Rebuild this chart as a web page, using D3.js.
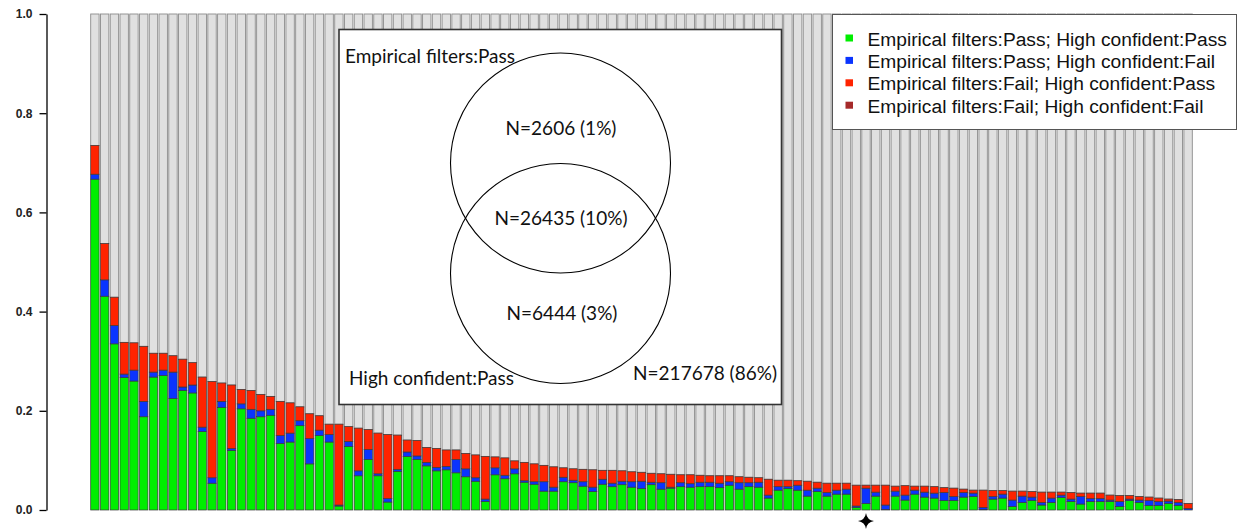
<!DOCTYPE html>
<html>
<head>
<meta charset="utf-8">
<script src="https://cdn.jsdelivr.net/npm/d3@7"></script>
<style>
  html, body { margin: 0; padding: 0; background: #fff; }
  svg { display: block; }
</style>
</head>
<body>
<div id="chart"></div>
<script>
// Fractions per group (sorted by total), bottom to top of each bar
const green = [
  .667,.431,.335,.267,.260,.188,.268,.271,.225,.241,
  .236,.158,.054,.207,.120,.204,.185,.188,.191,.134,
  .137,.170,.093,.150,.137,.008,.128,.069,.102,.069,
  .016,.078,.108,.102,.089,.079,.081,.075,.067,.058,
  .017,.071,.063,.073,.056,.052,.038,.038,.057,.055,
  .048,.037,.052,.047,.051,.046,.043,.051,.042,.044,
  .047,.046,.047,.047,.045,.050,.042,.047,.046,.024,
  .040,.043,.040,.028,.037,.028,.032,.032,.005,.013,
  .028,.001,.028,.020,.032,.026,.024,.019,.019,.026,
  .027,.001,.022,.024,.007,.015,.019,.010,.015,.025,
  .017,.012,.017,.017,.017,.007,.019,.015,.009,.009,
  .013,.009,0
];
const blue = [
  .010,.033,.037,.007,.022,.031,.010,.011,.053,.007,
  .016,.009,.011,.012,.004,.010,.018,.012,.012,.016,
  .018,.010,.051,.011,.015,.002,.010,.010,.020,.004,
  .007,.004,.009,.007,.007,.007,.007,.027,.016,.007,
  .005,.014,.007,.010,.003,.005,.019,.008,.009,.005,
  .009,.009,.010,.007,.007,.011,.015,.005,.013,.002,
  .008,.007,.009,.009,.009,.007,.013,.008,.010,.006,
  .007,.004,.010,.012,.007,.007,.008,.010,.003,.031,
  .008,.009,.010,.010,.008,.010,.010,.016,.008,.009,
  .007,.004,.005,.008,.013,.013,.007,.005,.009,.005,
  .005,.015,.006,.006,.003,.010,.003,.005,.010,.008,
  .005,.006,.003
];
const red = [
  .058,.073,.057,.064,.055,.111,.038,.034,.033,.056,
  .045,.101,.194,.037,.128,.029,.038,.033,.026,.069,
  .061,.028,.050,.029,.021,.163,.030,.086,.040,.082,
  .129,.069,.024,.031,.030,.038,.033,.019,.031,.046,
  .086,.022,.035,.016,.037,.036,.033,.041,.019,.023,
  .025,.035,.018,.026,.021,.020,.018,.018,.018,.026,
  .016,.018,.014,.013,.015,.012,.012,.011,.009,.032,
  .013,.013,.009,.018,.012,.019,.014,.012,.042,.006,
  .014,.040,.010,.019,.008,.012,.013,.010,.017,.007,
  .006,.035,.012,.007,.018,.010,.011,.021,.012,.006,
  .013,.007,.011,.011,.010,.012,.007,.007,.007,.007,
  .004,.006,.010
];
const darkred = [
  0,0,0,0,0,0,0,0,0,0, 0,0,0,0,0,0,0,0,0,0,
  0,0,0,0,0,0,0,0,0,0, 0,0,0,0,0,0,0,0,0,0,
  0,0,0,0,0,0,0,0,0,0, 0,0,0,0,0,0,0,0,0,0,
  0,0,0,0,0,0,0,0,0,0, 0,0,0,0,0,0,0,0,0,0,
  0,0,0,0,0,0,0,0,0,0, 0,0,0,0,0,0,0,0,0,0,
  0,0,0,0,0,0,0,0,0,0, 0,0,0
];

const seriesKeys = ['green', 'blue', 'red', 'darkred'];
const legendLabels = [
  'Empirical filters:Pass; High confident:Pass',
  'Empirical filters:Pass; High confident:Fail',
  'Empirical filters:Fail; High confident:Pass',
  'Empirical filters:Fail; High confident:Fail'
];
const yTicks = [0, 0.2, 0.4, 0.6, 0.8, 1.0];
const markedBar = 79; // the group flagged with a star under the axis

// Venn inset counts
const vennLabels = {
  setA: 'Empirical filters:Pass',
  setB: 'High confident:Pass',
  onlyA: 'N=2606 (1%)',
  both: 'N=26435 (10%)',
  onlyB: 'N=6444 (3%)',
  neither: 'N=217678 (86%)'
};

const colors = {
  green: '#00ee00',
  blue: '#0a34ff',
  red: '#ff2300',
  darkred: '#a52a2a',
  rest: '#e0e0e0'
};

const width = 1238, height = 529;

const svg = d3.select('#chart').append('svg')
  .attr('width', width)
  .attr('height', height);

// Build rows for the stack
const rows = green.map((g, i) => ({
  i: i, green: g, blue: blue[i], red: red[i], darkred: darkred[i]
}));

const x = d3.scaleBand()
  .domain(rows.map(d => d.i))
  .range([90.7, 1192.3])
  .paddingInner(0.14)
  .paddingOuter(0);

const y = d3.scaleLinear()
  .domain([0, 1])
  .range([510, 14]);

const stacked = d3.stack().keys(seriesKeys)(rows);

// Light gray remainder up to 1.0
svg.append('g')
  .selectAll('rect')
  .data(rows)
  .join('rect')
  .attr('x', d => x(d.i))
  .attr('width', x.bandwidth())
  .attr('y', y(1))
  .attr('height', d => y(d.green + d.blue + d.red + d.darkred) - y(1))
  .attr('fill', colors.rest)
  .attr('stroke', '#8c8c8c')
  .attr('stroke-width', 0.9);

// Coloured segments
svg.append('g')
  .selectAll('g')
  .data(stacked)
  .join('g')
  .attr('fill', s => colors[s.key])
  .selectAll('rect')
  .data(s => s)
  .join('rect')
  .attr('x', d => x(d.data.i))
  .attr('width', x.bandwidth())
  .attr('y', d => y(d[1]))
  .attr('height', d => y(d[0]) - y(d[1]))
  .attr('stroke', '#3a3a3a')
  .attr('stroke-width', 0.7);

// Y axis
const yAxis = d3.axisLeft(y)
  .tickValues(yTicks)
  .tickFormat(d3.format('.1f'))
  .tickSize(7)
  .tickSizeOuter(0)
  .tickPadding(7);

const axisG = svg.append('g')
  .attr('transform', 'translate(46.5,0)')
  .call(yAxis);
axisG.select('.domain').attr('stroke', '#000').attr('stroke-width', 1.3);
axisG.selectAll('.tick line').attr('stroke', '#000').attr('stroke-width', 1.3);
axisG.selectAll('.tick text')
  .attr('fill', '#222')
  .style('font-family', '"Liberation Sans", Arial, sans-serif')
  .style('font-size', '12px')
  .style('font-weight', 'bold');

// Star under the flagged bar
svg.append('path')
  .attr('transform', `translate(${x(markedBar) + x.bandwidth() / 2},521)`)
  .attr('d', 'M0,-8Q1,-1 8,0Q1,1 0,8Q-1,1 -8,0Q-1,-1 0,-8Z')
  .attr('fill', '#000');

// Venn inset
const venn = svg.append('g').style('font-family', 'Lato, "Open Sans", sans-serif');
venn.append('rect')
  .attr('x', 339).attr('y', 29.5)
  .attr('width', 442.5).attr('height', 375)
  .attr('fill', '#fff')
  .attr('stroke', '#333')
  .attr('stroke-width', 1.6);

[163, 273.5].forEach(cy => {
  venn.append('circle')
    .attr('cx', 560.5).attr('cy', cy).attr('r', 110)
    .attr('fill', 'none')
    .attr('stroke', '#000')
    .attr('stroke-width', 1.1);
});

const vennText = [
  { t: vennLabels.setA, x: 345, y: 63, anchor: 'start' },
  { t: vennLabels.onlyA, x: 561, y: 135, anchor: 'middle' },
  { t: vennLabels.both, x: 561, y: 225, anchor: 'middle' },
  { t: vennLabels.onlyB, x: 562, y: 320, anchor: 'middle' },
  { t: vennLabels.setB, x: 349, y: 385, anchor: 'start' },
  { t: vennLabels.neither, x: 777, y: 380, anchor: 'end' }
];
venn.selectAll('text')
  .data(vennText)
  .join('text')
  .attr('x', d => d.x)
  .attr('y', d => d.y)
  .attr('text-anchor', d => d.anchor)
  .attr('fill', '#111')
  .style('font-size', '19px')
  .text(d => d.t);

// Legend
const legend = svg.append('g');
legend.append('rect')
  .attr('x', 832.5).attr('y', 14.5)
  .attr('width', 404).attr('height', 115)
  .attr('fill', '#fff')
  .attr('stroke', '#555')
  .attr('stroke-width', 1);

const items = legend.selectAll('g.item')
  .data(seriesKeys)
  .join('g')
  .attr('class', 'item')
  .attr('transform', (d, i) => `translate(0,${45.5 + i * 22.4})`);

items.append('rect')
  .attr('x', 845.5).attr('y', -11)
  .attr('width', 7.5).attr('height', 7)
  .attr('fill', d => colors[d]);

items.append('text')
  .attr('x', 867.5)
  .attr('y', 0)
  .attr('fill', '#111')
  .style('font-family', '"Liberation Sans", Arial, sans-serif')
  .style('font-size', '19.2px')
  .text((d, i) => legendLabels[i]);
</script>
</body>
</html>
